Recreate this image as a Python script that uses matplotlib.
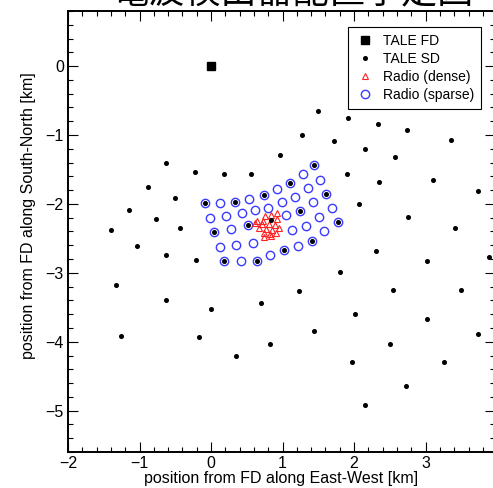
import matplotlib
matplotlib.use('Agg')
import matplotlib.pyplot as plt
from matplotlib.ticker import MultipleLocator

plt.rcParams['font.family'] = ['Liberation Sans', 'DejaVu Sans']

# FD position
fd_x = [0.0]
fd_y = [0.0]

# TALE surface detectors
sd_x = [1.497, 1.911, 2.331, 2.741, 1.273, 1.716, 3.357, 2.154, 0.970, 2.573,
        -0.629, -0.228, 0.182, 0.555, 1.897, 2.345, 3.105, -0.886, 3.739, -0.499,
        2.070, -1.152, 2.755, -0.765, -1.399, -0.429, 3.413, -1.035, 2.308, -0.629,
        -0.210, 3.016, 3.888, 1.804, -1.329, 1.231, 2.545, 3.501, -0.629, 0.699,
        0.000, 2.014, 3.016, -1.254, -0.163, 1.445, 0.825, 2.503, 3.734, 0.350,
        1.967, 3.254, 2.723, 2.159,
        # detectors sitting inside radio stations
        1.445, 1.110, 0.741, 1.608, -0.089, 0.331, 1.249, 1.772, 0.517, 0.047,
        1.413, 1.021, 0.186, 0.643, 0.844]
sd_y = [-0.649, -0.750, -0.842, -0.934, -1.002, -1.094, -1.079, -1.210, -1.283, -1.321,
        -1.409, -1.539, -1.563, -1.559, -1.563, -1.684, -1.655, -1.752, -1.810, -1.912,
        -2.004, -2.081, -2.183, -2.217, -2.381, -2.352, -2.352, -2.609, -2.677, -2.744,
        -2.817, -2.827, -2.769, -2.991, -3.180, -3.258, -3.248, -3.243, -3.388, -3.432,
        -3.519, -3.592, -3.674, -3.921, -3.935, -3.848, -4.032, -4.032, -3.887, -4.206,
        -4.298, -4.293, -4.637, -4.918,
        -1.439, -1.696, -1.875, -1.851, -1.986, -1.977, -2.098, -2.263, -2.306, -2.408,
        -2.539, -2.665, -2.830, -2.824, -2.236]

# radio stations, dense part
dense_x = [0.918, 0.751, 0.834, 0.648, 0.732, 0.923, 0.718, 0.807, 0.891, 0.671,
           0.769, 0.858, 0.947, 0.741, 0.825, 0.909, 0.746, 0.839, 0.610]
dense_y = [-2.127, -2.176, -2.166, -2.248, -2.248, -2.224, -2.297, -2.297, -2.311, -2.345,
           -2.359, -2.374, -2.345, -2.423, -2.432, -2.417, -2.480, -2.466, -2.280]

# radio stations, sparse part
sparse_x = [1.445, 1.282, 1.529, 1.110, 0.928, 1.352, 1.608, 0.741, 0.531, 1.179,
            -0.089, 0.121, 0.331, 0.993, 1.431, 0.797, 0.611, 0.429, 1.688, -0.019,
            0.205, 1.249, 1.053, 1.506, 1.772, 0.517, 0.284, 0.047, 1.128, 1.329,
            1.585, 0.121, 0.354, 0.583, 1.212, 1.413, 1.021, 0.825, 0.186, 0.415,
            0.643]
sparse_y = [-1.439, -1.565, -1.647, -1.696, -1.788, -1.768, -1.851, -1.875, -1.923, -1.899,
            -1.986, -1.982, -1.977, -1.977, -1.977, -2.059, -2.093, -2.137, -2.059, -2.204,
            -2.171, -2.098, -2.166, -2.190, -2.263, -2.306, -2.360, -2.408, -2.384, -2.321,
            -2.398, -2.626, -2.592, -2.563, -2.607, -2.539, -2.665, -2.747, -2.830, -2.830,
            -2.824]

fig = plt.figure(figsize=(4.93, 4.88), dpi=100)
# frame runs off the right edge of the picture, like the cropped original
ax = fig.add_axes([0.138, 0.0738, 0.866, 0.9037])

ax.plot(sparse_x, sparse_y, 'o', mfc='none', mec='#3b3bff', mew=1.0, ms=6.0,
        label='Radio (sparse)', zorder=2)
ax.plot(dense_x, dense_y, '^', mfc='none', mec='#ff2020', mew=0.8, ms=5.0,
        label='Radio (dense)', zorder=3)
ax.plot(sd_x, sd_y, 'o', color='black', ms=2.6, label='TALE SD', zorder=4)
ax.plot(fd_x, fd_y, 's', color='black', ms=5.5, label='TALE FD', zorder=5)

ax.set_xlim(-2, 3.97)
ax.set_ylim(-5.6, 0.8)
ax.xaxis.set_major_locator(MultipleLocator(1))
ax.xaxis.set_minor_locator(MultipleLocator(0.2))
ax.yaxis.set_major_locator(MultipleLocator(1))
ax.yaxis.set_minor_locator(MultipleLocator(0.2))
ax.tick_params(which='both', direction='in', top=True, right=True, labelsize=11.5, width=0.8)
ax.tick_params(which='major', length=7, pad=3)
ax.tick_params(which='minor', length=3.5)
for s in ax.spines.values():
    s.set_linewidth(1.4)

ax.set_xlabel('position from FD along East-West [km]', fontsize=11.5, labelpad=0)
ax.set_ylabel('position from FD along South-North [km]', fontsize=11.5)
ax.yaxis.set_label_coords(-0.075, 0.535)

handles, labels = ax.get_legend_handles_labels()
order = [3, 2, 1, 0]
leg = fig.legend([handles[i] for i in order], [labels[i] for i in order],
                 loc='upper right', bbox_to_anchor=(0.976, 0.945), borderaxespad=0,
                 fontsize=10, fancybox=False, framealpha=1, edgecolor='black',
                 handletextpad=0.6, borderpad=0.5, labelspacing=0.3, handlelength=1.4)
leg.get_frame().set_linewidth(0.8)

fig.text(0.594, 0.976, '電波検出器配置予定図', ha='center', va='bottom', fontsize=26,
         family=['Noto Sans CJK JP', 'DejaVu Sans'])

fig.savefig('out.png', dpi=100)
